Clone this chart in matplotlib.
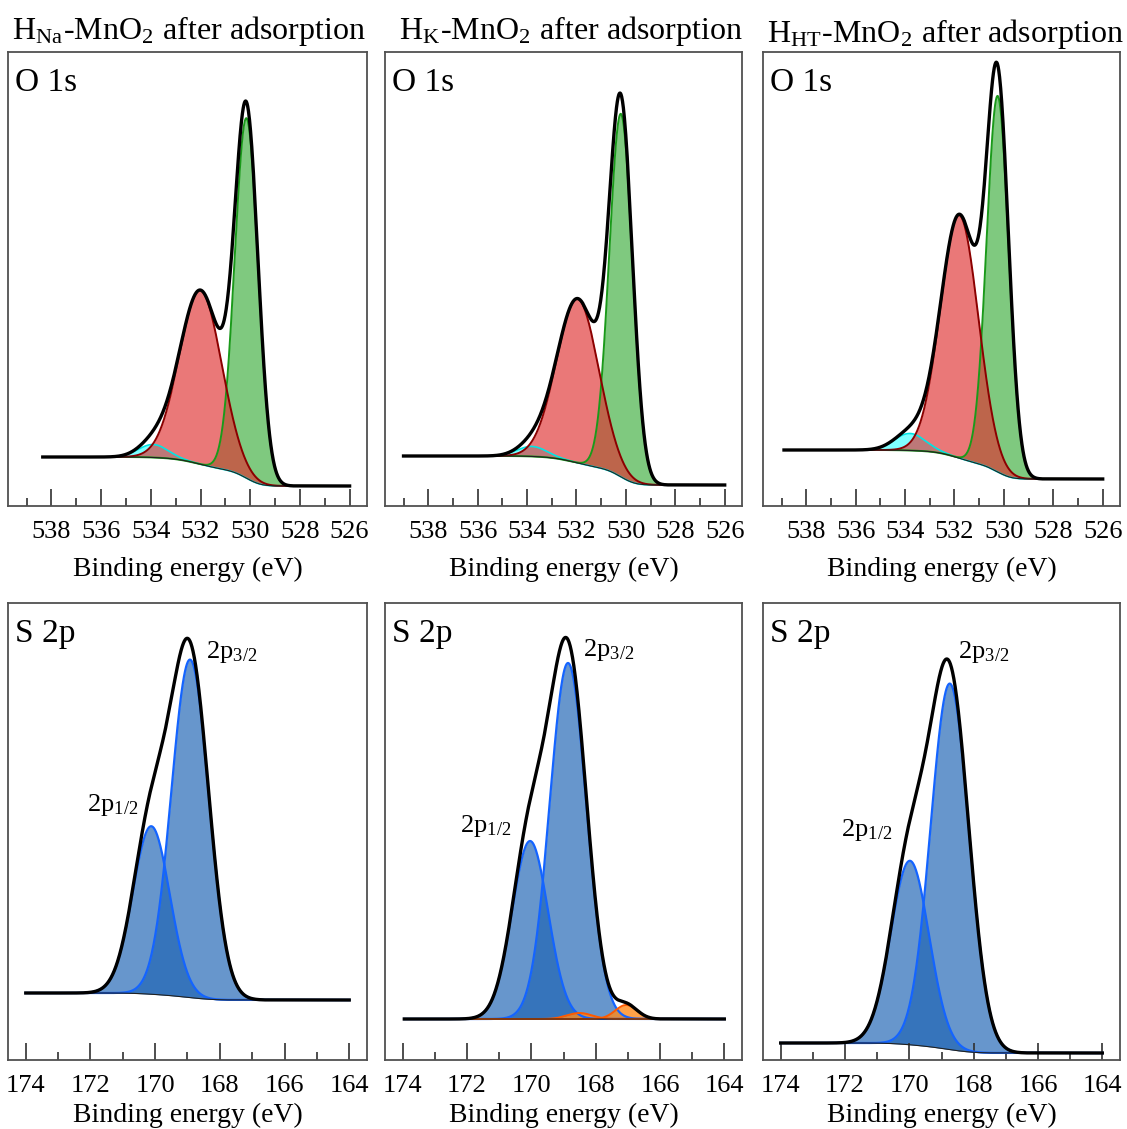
import numpy as np
import matplotlib.pyplot as plt
from matplotlib.ticker import MultipleLocator

plt.rcParams['font.family'] = ['Liberation Serif', 'DejaVu Serif']
plt.rcParams['mathtext.fontset'] = 'stix'

titles = [r'H$_{\mathregular{Na}}$-MnO$_{\mathregular{2}}$ after adsorption',
          r'H$_{\mathregular{K}}$-MnO$_{\mathregular{2}}$ after adsorption',
          r'H$_{\mathregular{HT}}$-MnO$_{\mathregular{2}}$ after adsorption']

# O 1s: measured range (eV), background levels (high BE side, low BE side)
o1s_range = [(526.0, 538.35), (526.0, 539.0), (526.0, 538.9)]
o1s_bg = [(49, 20), (50, 21), (56, 27)]
# components: (centre eV, FWHM eV, height, arb. units)
o1s_cyan = [(533.9, 1.4, 13), (533.8, 1.4, 10), (533.8, 1.5, 17)]
o1s_red = [(532.0, 2.0, 174), (531.95, 2.0, 164), (531.8, 1.8, 243)]
o1s_green = [(530.15, 1.1, 360), (530.2, 1.1, 363), (530.25, 1.05, 376)]

# S 2p
s2p_range = [(164.0, 174.0), (164.0, 173.95), (164.0, 174.0)]
s2p_bg = [(67, 60), (41, 41), (17, 7)]
s2p_p12 = [(170.12, 1.34, 168), (170.04, 1.32, 178), (169.98, 1.4, 184)]
s2p_p32 = [(168.92, 1.36, 338), (168.86, 1.34, 356), (168.74, 1.4, 366)]
s2p_extra = [[], [(168.5, 0.9, 6), (167.05, 0.8, 14)], []]
lab32_pos = [(168.43, 408), (168.39, 410), (168.49, 408)]
lab12_pos = [(172.11, 255), (172.22, 234), (172.14, 230)]


def gauss(x, c, w, a):
    s = w / 2.3548
    return a * np.exp(-(x - c) ** 2 / (2 * s * s))


def shirley(x, comps, hi, lo):
    # x ascending in BE; background rises toward high BE
    tot = np.zeros_like(x)
    for c in comps:
        tot += c
    cum = np.cumsum(tot)
    cum = cum / cum[-1]
    return lo + (hi - lo) * cum


W, H = 1127, 1129
fig = plt.figure(figsize=(W / 100, H / 100), dpi=100)

cols_px = [(8, 367), (385, 742), (763, 1120)]
title_px = [(189, 31), (571, 31), (946, 34)]
top_px = (52, 506)
bot_px = (603, 1060)


def make_ax(xp, yp, lpad):
    ax = fig.add_axes([xp[0] / W, 1 - yp[1] / H, (xp[1] - xp[0]) / W, (yp[1] - yp[0]) / H])
    for sp in ax.spines.values():
        sp.set_color('#505050')
        sp.set_linewidth(1.3)
    ax.set_yticks([])
    ax.xaxis.set_major_locator(MultipleLocator(2))
    ax.xaxis.set_minor_locator(MultipleLocator(1))
    ax.tick_params(axis='x', which='major', direction='in', length=12, width=1.2,
                   color='#303030', labelsize=19, pad=11)
    ax.tick_params(axis='x', which='minor', direction='in', length=6, width=1.2,
                   color='#303030')
    ax.set_xlabel('Binding energy (eV)', fontsize=20, labelpad=lpad)
    return ax


for i in range(3):
    # ---------- O 1s ----------
    ax = make_ax(cols_px[i], top_px, 10)
    x = np.linspace(o1s_range[i][0], o1s_range[i][1], 1500)
    cy = gauss(x, *o1s_cyan[i])
    rd = gauss(x, *o1s_red[i])
    gr = gauss(x, *o1s_green[i])
    bg = shirley(x, [cy, rd, gr], *o1s_bg[i])
    env = bg + cy + rd + gr

    ax.fill_between(x, bg, bg + cy, color='#00ffff', alpha=0.5, lw=0)
    ax.plot(x, bg + cy, color='#00e5e5', lw=1.2)
    ax.fill_between(x, bg, bg + gr, color=(0.12, 0.63, 0.12), alpha=0.57, lw=0)
    ax.plot(x, bg + gr, color='#1a9a1a', lw=1.4)
    ax.fill_between(x, bg, bg + rd, color='#e03030', alpha=0.65, lw=0)
    ax.plot(x, bg + rd, color='#8b0000', lw=1.4)
    ax.plot(x, bg, color='#202020', lw=0.8)
    ax.plot(x, env, color='black', lw=2.4)

    ax.set_xlim(539.75, 525.3)
    ax.set_ylim(0, top_px[1] - top_px[0])
    ax.text(0.02, 0.965, 'O 1s', transform=ax.transAxes, fontsize=24, va='top', ha='left')
    fig.text(title_px[i][0] / W, 1 - title_px[i][1] / H, titles[i],
             ha='center', va='center', fontsize=23)

    # ---------- S 2p ----------
    ax = make_ax(cols_px[i], bot_px, 4)
    x = np.linspace(s2p_range[i][0], s2p_range[i][1], 1500)
    p12 = gauss(x, *s2p_p12[i])
    p32 = gauss(x, *s2p_p32[i])
    extra = [gauss(x, *p) for p in s2p_extra[i]]
    bg = shirley(x, [p12, p32] + extra, *s2p_bg[i])
    env = bg + p12 + p32 + sum(extra)

    ax.fill_between(x, bg, bg + p12, color='#1f64b4', alpha=0.68, lw=0)
    ax.plot(x, bg + p12, color='#1464ff', lw=1.6)
    ax.fill_between(x, bg, bg + p32, color='#1f64b4', alpha=0.68, lw=0)
    ax.plot(x, bg + p32, color='#1464ff', lw=1.6)
    for e in extra:
        ax.fill_between(x, bg, bg + e, color='#ff8a1a', alpha=0.8, lw=0)
        ax.plot(x, bg + e, color='#ff5a00', lw=1.4)
    ax.plot(x, bg, color='#202020', lw=0.8)
    ax.plot(x, env, color='black', lw=2.4)

    ax.set_xlim(174.55, 163.45)
    ax.set_ylim(0, bot_px[1] - bot_px[0])
    ax.text(0.02, 0.965, 'S 2p', transform=ax.transAxes, fontsize=24, va='top', ha='left')
    ax.text(*lab32_pos[i], r'2p$_{\mathregular{3/2}}$', fontsize=19, ha='left', va='center')
    ax.text(*lab12_pos[i], r'2p$_{\mathregular{1/2}}$', fontsize=19, ha='left', va='center')

fig.savefig('out.png', dpi=100)
